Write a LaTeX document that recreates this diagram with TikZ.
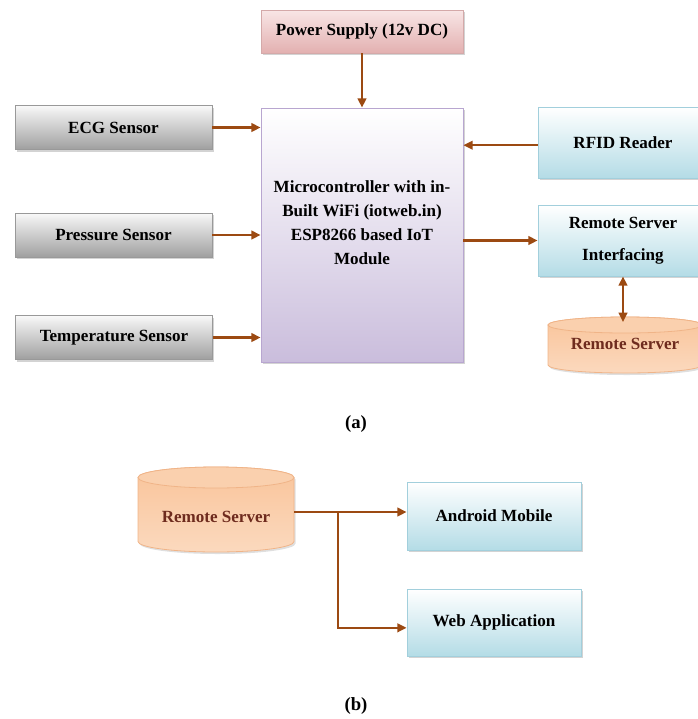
\documentclass[tikz,border=0pt]{standalone}
\usepackage{fontspec}
\setmainfont{Liberation Serif}
\usetikzlibrary{arrows.meta}
\usetikzlibrary{shadows}

\definecolor{arrowbrown}{HTML}{9C4A12}
\definecolor{srvtext}{HTML}{6E2B1E}
\definecolor{pinktop}{HTML}{F8E6E6}
\definecolor{pinkbot}{HTML}{E3B0B0}
\definecolor{lavbot}{HTML}{CABDDC}
\definecolor{lavrim}{HTML}{B8A6D0}
\definecolor{bluebot}{HTML}{B4DCE6}
\definecolor{bluerim}{HTML}{A2CFDC}
\definecolor{peachtop}{HTML}{F9C49A}
\definecolor{peachbot}{HTML}{FBD9BE}
\definecolor{peachrim}{HTML}{F0B488}

\tikzset{
  boxfont/.style={font=\bfseries\fontsize{12.8}{17}\selectfont},
  box/.style={draw, line width=0.6pt, boxfont, align=center,
    drop shadow={shadow xshift=1.2pt, shadow yshift=-1.5pt, opacity=0.35}},
  sensorbox/.style={box, draw=gray!80, top color=gray!5, bottom color=gray!75,
    minimum width=147.75pt, minimum height=33pt},
  powerbox/.style={box, draw=pinkbot!85!gray, top color=pinktop, bottom color=pinkbot,
    minimum width=151.5pt, minimum height=32.25pt},
  mcubox/.style={box, draw=lavrim, top color=white, bottom color=lavbot,
    minimum width=151.5pt, minimum height=190.5pt},
  bluebox/.style={box, draw=bluerim, top color=white, bottom color=bluebot},
  serverbody/.style={draw=peachrim, line width=0.6pt, top color=peachtop, bottom color=peachbot,
    drop shadow={shadow xshift=1.2pt, shadow yshift=-1.5pt, opacity=0.25}},
  servertop/.style={draw=peachrim, line width=0.6pt, fill=peachtop!80!white},
  srvlabel/.style={boxfont, text=srvtext},
  conn/.style={draw=arrowbrown, line width=1.6pt, -{Triangle[length=7pt,width=6.5pt]}},
  sublabel/.style={font=\bfseries\fontsize{14}{16}\selectfont}
}

\begin{document}
\begin{tikzpicture}[x=0.75pt,y=0.75pt]
\useasboundingbox (0,0) rectangle (698,-719);

% (a) sensor side
\node[powerbox] (power) at (362,-31.5) {Power Supply (12v DC)};
\node[mcubox] (mcu) at (362,-235) {};
\node[boxfont, align=center, font=\bfseries\fontsize{12.8}{18}\selectfont] (mcutext) at (362,-223)
  {Microcontroller with in-\\Built WiFi (iotweb.in)\\ESP8266 based IoT\\Module};
\node[sensorbox] (ecg) at (113.5,-127.5) {ECG Sensor};
\node[sensorbox] (press) at (113.5,-235) {Pressure Sensor};
\node[sensorbox] (temp) at (114,-337.5) {Temperature Sensor};
\node[bluebox, minimum width=127.5pt, minimum height=53.25pt] (rfid) at (623,-142.5) {RFID Reader};
\node[bluebox, minimum width=127.5pt, minimum height=53.25pt,
  font=\bfseries\fontsize{12.8}{24}\selectfont] (rsi) at (623,-240.5) {Remote Server\\Interfacing};

% remote server drum
\draw[serverbody] (548,-325) -- (548,-365) arc[start angle=180,end angle=360,x radius=77,y radius=8]
  -- (702,-325) arc[start angle=0,end angle=180,x radius=77,y radius=8] -- cycle;
\draw[servertop] (625,-325) ellipse[x radius=77,y radius=8];
\coordinate (srvtop) at (623,-322);
\node[srvlabel] (srvtext) at (625,-344) {Remote Server};

\draw[conn] (power) -- (mcu);
\foreach \s in {ecg,press,temp} {
  \draw[conn] (\s.east) -- (\s.east -| mcu.west);
}
\draw[conn] ([yshift=-2pt]rfid.west) -- ([yshift=-2pt]rfid.west -| mcu.east);
\draw[conn] (rsi.west -| mcu.east) -- (rsi.west);
\draw[conn, {Triangle[length=7pt,width=6.5pt]}-{Triangle[length=7pt,width=6.5pt]}]
  (rsi.south) -- (srvtop);

\node[sublabel] (lbla) at (356,-424) {(a)};

% (b) server side
\draw[serverbody] (138,-477.5) -- (138,-541.5) arc[start angle=180,end angle=360,x radius=78,y radius=10.5]
  -- (294,-477.5) arc[start angle=0,end angle=180,x radius=78,y radius=10.5] -- cycle;
\draw[servertop] (216,-477.5) ellipse[x radius=78,y radius=10.5];
\coordinate (srvbeast) at (294,-512);
\node[srvlabel] (srvbtext) at (216,-517) {Remote Server};
\node[bluebox, minimum width=130.5pt, minimum height=51pt] (android) at (494,-516) {Android Mobile};
\node[bluebox, minimum width=130.5pt, minimum height=50.25pt] (web) at (494,-622.5) {Web Application};
\path (srvbeast) -- ++(44,0) coordinate (split);

\draw[conn] (srvbeast) -- (srvbeast -| android.west);
\draw[conn] (split) |- ([yshift=-4pt]web.west);

\node[sublabel] (lblb) at (356,-706) {(b)};
\end{tikzpicture}
\end{document}
